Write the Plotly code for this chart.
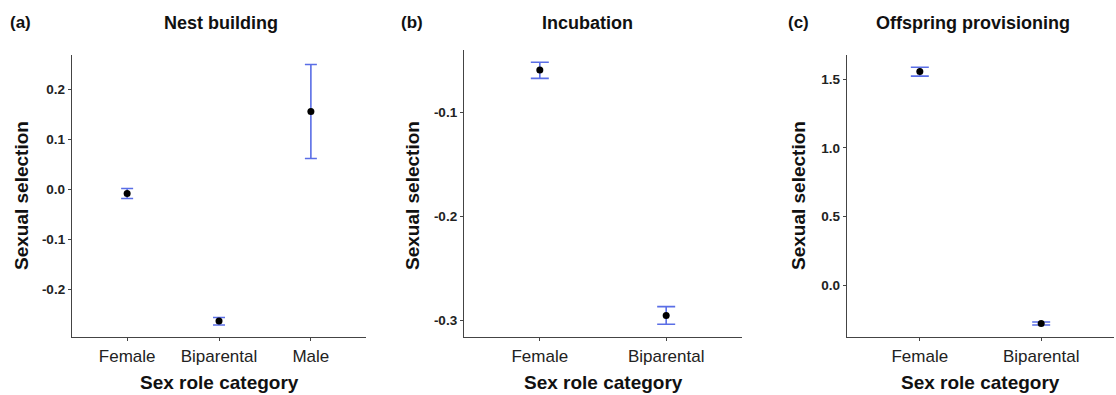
import plotly.graph_objects as go

# Panel (a) Nest building
cats_a = ["Female", "Biparental", "Male"]
mean_a = [-0.009, -0.264, 0.155]
lo_a = [-0.019, -0.272, 0.061]
hi_a = [0.001, -0.257, 0.249]

# Panel (b) Incubation
cats_b = ["Female", "Biparental"]
mean_b = [-0.059, -0.2955]
lo_b = [-0.067, -0.304]
hi_b = [-0.0515, -0.287]

# Panel (c) Offspring provisioning
cats_c = ["Female", "Biparental"]
mean_c = [1.555, -0.278]
lo_c = [1.522, -0.29]
hi_c = [1.587, -0.268]

titles = ["Nest building", "Incubation", "Offspring provisioning"]
letters = ["(a)", "(b)", "(c)"]
ytick_a = [-0.2, -0.1, 0.0, 0.1, 0.2]
ytick_b = [-0.3, -0.2, -0.1]
ytick_c = [0.0, 0.5, 1.0, 1.5]

W, H = 1116, 395
BLUE = "#5a6ee6"
FONT = "Liberation Sans, Arial, sans-serif"

panels = [
    dict(c=cats_a, m=mean_a, lo=lo_a, hi=hi_a, xd=(72, 366), yd=(337, 55),
         yr=(-0.296, 0.268), tv=ytick_a, tt=["-0.2", "-0.1", "0.0", "0.1", "0.2"],
         cap=6, ytx=21, ttx=221, lx=20),
    dict(c=cats_b, m=mean_b, lo=lo_b, hi=hi_b, xd=(464, 742), yd=(337, 50),
         yr=(-0.3163, -0.0397), tv=ytick_b, tt=["-0.3", "-0.2", "-0.1"],
         cap=9, ytx=412, ttx=587, lx=412),
    dict(c=cats_c, m=mean_c, lo=lo_c, hi=hi_c, xd=(847, 1114), yd=(337, 55),
         yr=(-0.377, 1.676), tv=ytick_c, tt=["0.0", "0.5", "1.0", "1.5"],
         cap=9, ytx=798, ttx=973, lx=798),
]

fig = go.Figure()
annotations = []
for i, p in enumerate(panels):
    k = "" if i == 0 else str(i + 1)
    fig.add_trace(go.Scatter(
        x=p["c"], y=p["m"], mode="markers",
        marker=dict(color="black", size=7),
        error_y=dict(type="data", symmetric=False,
                     array=[h - m for h, m in zip(p["hi"], p["m"])],
                     arrayminus=[m - l for m, l in zip(p["m"], p["lo"])],
                     color=BLUE, thickness=1.6, width=p["cap"]),
        xaxis="x" + k, yaxis="y" + k, showlegend=False,
    ))
    n = len(p["c"])
    axis_common = dict(showline=True, linecolor="#444444", linewidth=1.3,
                       showgrid=False, zeroline=False, ticks="outside",
                       ticklen=3, tickcolor="#444444")
    fig.layout["xaxis" + k] = dict(
        domain=[p["xd"][0] / W, p["xd"][1] / W], anchor="y" + k,
        type="category", categoryorder="array", categoryarray=p["c"],
        range=[-0.6, n - 0.4],
        tickfont=dict(family=FONT, size=17, color="#222222"),
        **axis_common)
    fig.layout["yaxis" + k] = dict(
        domain=[(H - p["yd"][0]) / H, (H - p["yd"][1]) / H], anchor="x" + k,
        range=list(p["yr"]), tickvals=p["tv"], ticktext=p["tt"],
        tickfont=dict(family=FONT, size=13.5, color="#222222", weight="bold"),
        **axis_common)
    xc = (p["xd"][0] + p["xd"][1]) / 2
    annotations += [
        dict(text="<b>" + titles[i] + "</b>", x=p["ttx"] / W, y=1 - 23 / H,
             xref="paper", yref="paper", showarrow=False,
             font=dict(family=FONT, size=18, color="#111111"), xanchor="center", yanchor="middle"),
        dict(text="<b>" + letters[i] + "</b>", x=p["lx"] / W, y=1 - 23 / H,
             xref="paper", yref="paper", showarrow=False,
             font=dict(family=FONT, size=17, color="#111111"), xanchor="center", yanchor="middle"),
        dict(text="<b>Sexual selection</b>", x=p["ytx"] / W, y=1 - 196 / H,
             xref="paper", yref="paper", showarrow=False, textangle=-90,
             font=dict(family=FONT, size=19, color="#111111"), xanchor="center", yanchor="middle"),
        dict(text="<b>Sex role category</b>", x=xc / W, y=1 - 382 / H,
             xref="paper", yref="paper", showarrow=False,
             font=dict(family=FONT, size=19, color="#111111"), xanchor="center", yanchor="middle"),
    ]

fig.update_layout(width=W, height=H, margin=dict(l=0, r=0, t=0, b=0),
                  plot_bgcolor="white", paper_bgcolor="white",
                  annotations=annotations)
fig.write_html("out.html", config={"displayModeBar": False},
               post_script="document.body.style.margin='0';document.body.style.overflow='hidden';")
